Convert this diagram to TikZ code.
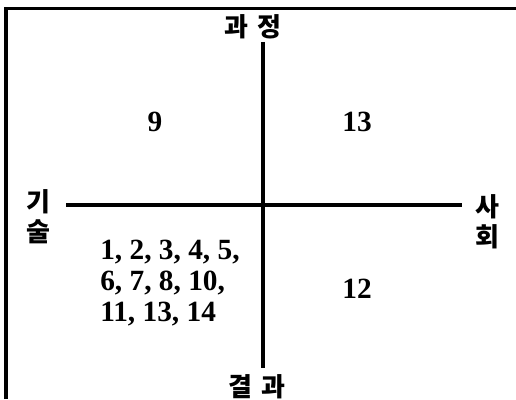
\documentclass[tikz,border=0pt]{standalone}
\usepackage{fontspec}
\setmainfont{Liberation Serif}
\newfontfamily\kofont{Noto Sans CJK KR}
\begin{document}
\begin{tikzpicture}[x=0.75pt, y=-0.75pt,
    axis/.style={line width=3.4pt},
    frameline/.style={line width=2.6pt},
    quadlabel/.style={font=\bfseries\fontsize{22}{23.3}\selectfont, inner sep=0pt},
    axislabel/.style={font=\kofont\bfseries\fontsize{19.5}{22.5}\selectfont, inner sep=0pt, align=center}]
            \useasboundingbox (0,0) rectangle (516,399);

            % frame
            \draw[frameline] (6,399) -- (6,8.5) -- (516,8.5);

            % axes
            \coordinate (vtop) at (263,42);
            \coordinate (vbot) at (263,368);
            \coordinate (hleft) at (66,205);
            \coordinate (hright) at (462,205);
            \draw[axis] (vtop) -- (vbot);
            \draw[axis] (hleft) -- (hright);

            \node[axislabel] (process) at (253,27) {과\,\,정};
            \node[axislabel] (result) at (257,387) {결\,\,과};
            \node[axislabel] (tech) at (38,217) {기\\술};
            \node[axislabel] (society) at (487,222) {사\\회};

            % quadrants
            \node[quadlabel] (q2) at (155,122) {9};
            \node[quadlabel] (q1) at (357,122) {13};
            \node[quadlabel] (q4) at (357,289) {12};
            \node[quadlabel, anchor=west, align=left] (q3) at (100,283) {1, 2, 3, 4, 5,\\6, 7, 8, 10,\\11, 13, 14};
        \end{tikzpicture}
\end{document}
